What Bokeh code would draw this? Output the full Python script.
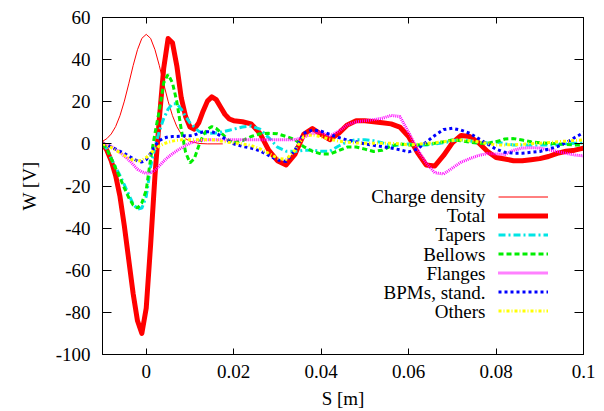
from bokeh.plotting import figure
from bokeh.models import FixedTicker, LinearAxis, Legend, LegendItem, Label
from bokeh.embed import file_html
from bokeh.resources import INLINE

# ---------------- data ----------------
S = [-0.010, -0.009, -0.008, -0.007, -0.006, -0.005, -0.004, -0.003, -0.002, -0.001,
     0.000, 0.001, 0.002, 0.003, 0.004, 0.005, 0.006, 0.007, 0.008, 0.009, 0.010, 0.011, 0.012,
     0.013, 0.014, 0.015, 0.016, 0.017, 0.018, 0.019, 0.020,
     0.022, 0.024, 0.026, 0.028, 0.030, 0.032, 0.034, 0.036, 0.038,
     0.040, 0.042, 0.044, 0.046, 0.048, 0.050, 0.052, 0.054, 0.056, 0.058, 0.060, 0.062, 0.064,
     0.066, 0.068, 0.070, 0.072, 0.074, 0.076, 0.078, 0.080, 0.082, 0.084, 0.086, 0.088, 0.090,
     0.092, 0.094, 0.096, 0.098, 0.100]

total = [0, -3, -8, -15, -25, -39, -55, -71, -84, -90,
         -78, -48, -15, 12, 36, 50, 48, 37, 22, 13, 8, 7, 10,
         15.5, 20.3, 22.3, 21, 17.5, 14, 11.8, 11,
         10.5, 9.5, 5, -3, -8, -10, -5, 4.5, 7.3,
         4.5, 2, 5, 9, 11, 11, 10.5, 10, 9.5, 8, 3.5, -4, -10,
         -10.5, -5.5, 0.5, 4, 3.5, 0.5, -3.5, -6.5, -7.2, -8, -8, -7.5, -7,
         -6, -4.5, -3.5, -3, -2]

tapers = [0, -2.5, -7, -11, -15, -19.5, -24, -28.5, -31, -30.5,
          -25, -11, -1.5, 6, 12, 16.5, 19, 19, 16.5, 13, 10, 8, 6,
          5.3, 5, 5, 5.2, 5.5, 6, 6.5, 7,
          8, 8.5, 7, 3, -1.5, -3.5, -3.6, -3, -3,
          -3.5, -3.5, -1, 1, 2, 2, 1.5, 0.5, -1, -0.5, 0, -0.5, -0.5,
          0, 0.5, 1.5, 2, 1.5, 0.5, 0.5, 1, 0, -0.5, -0.5, -0.5, -0.5,
          -0.5, -0.5, 0, 0.3, 0.5]

bellows = [0, -2.5, -7, -11.5, -16, -21, -25.5, -29, -30.5, -28,
           -22, -7, 5, 16, 29, 33, 29, 20, 7, -4, -9, -7, -1,
           4, 7, 8.2, 7.3, 5.5, 3.5, 1.5, 0.5,
           1.5, 3.5, 4.8, 5, 4.8, 3.5, 2, -1.3, -3.5,
           -4.8, -4.8, -3.2, -1.5, -1.5, -2.5, -3.6, -3, -1, 0, -0.5, -0.5, -0.3,
           0.3, 1, 1.9, 1.5, 0.8, 0.3, 0.3, 1, 2.3, 2.5, 1.8, 1, 0.5,
           0.3, 0, -0.3, -0.5, -0.5]

flanges = [0, -0.3, -1.2, -2.5, -4, -5.8, -7.6, -9.8, -12, -13.3,
           -14, -13.7, -12.5, -10.5, -8.2, -6.3, -4.7, -3.3, -2, -0.8, 0.3, 1, 1.5,
           1.8, 2, 2, 2, 2, 2, 2, 2,
           2, 2, 2, 2, 2, 2, 2, 3, 5,
           5.5, 3.8, 6, 9, 10.5, 11, 11.5, 12.2, 13.5, 13, 5.5, -2.5, -9,
           -13.7, -14.3, -11.5, -8.7, -7, -5.5, -4.6, -4.8, -5, -3, -2, -1.8, -2,
           -2.8, -3.6, -4.5, -5.3, -5.7]

bpms = [0, -0.5, -1.5, -2.5, -3.5, -4.5, -5.8, -7, -8.2, -8.6,
        -7.5, -4.5, -1, 1.5, 2.8, 3.3, 3.5, 3.5, 3.7, 3.8, 3.8, 4.2, 5,
        5.7, 5.8, 5.8, 5, 3.8, 2.5, 1, 0,
        -1.2, -2, -3.3, -5.5, -7.6, -8.4, -3, 5, 6.6,
        6, 4.5, 3, 1.8, 1, 0, -0.7, -1.3, -2, -2.8, -3.8, -2.5, 0.8,
        4, 6.8, 7.4, 6.5, 5, 2.5, 0, -2.5, -4, -4.4, -4.4, -4, -3.6,
        -2.5, -1.3, 0.5, 3, 5.3]

others = [0, -0.7, -1.8, -3, -4.2, -5.5, -6.7, -7.7, -8.2, -7.8,
          -6.5, -4.5, -2.5, -1, 0, 0.8, 1.3, 1.7, 1.9, 2, 2, 2, 2,
          2, 2, 2, 1.8, 1.4, 1, 0.7, 0.5,
          0, -0.8, -2.3, -4.5, -6.8, -7.4, -3, 3.5, 4.3,
          3.3, 2.2, 1.3, 0.8, 0.4, 0.3, 0.3, 0.3, 0.3, 0, -0.5, -0.2, 0.2,
          0.5, 1, 1.6, 1.9, 1.5, 1, 0.2, -0.5, -0.5, -0.4, -0.2, 0.1, 0.3,
          0.6, 1, 1.3, 1.6, 1.9]

q_S = [-0.010, -0.009, -0.008, -0.007, -0.006, -0.005, -0.004, -0.003, -0.002, -0.001,
       0.000, 0.001, 0.002, 0.003, 0.004, 0.005, 0.006, 0.007, 0.008, 0.009, 0.010,
       0.012, 0.014, 0.0175]
charge = [1.2, 2.5, 4.7, 8.2, 13.4, 20.3, 28.5, 37.1, 44.7, 50.1,
          52, 50.1, 44.7, 37.1, 28.5, 20.3, 13.4, 8.2, 4.7, 2.5, 1.2,
          0.2, 0, 0]

series_names = ["Charge density", "Total", "Tapers", "Bellows", "Flanges", "BPMs, stand.", "Others"]

x_ticks = [0, 0.02, 0.04, 0.06, 0.08, 0.1]
x_tick_labels = ["0", "0.02", "0.04", "0.06", "0.08", "0.1"]
y_ticks = [-100, -80, -60, -40, -20, 0, 20, 40, 60]
y_tick_labels = ["-100", "-80", "-60", "-40", "-20", "0", "20", "40", "60"]

# ---------------- figure ----------------
FONT = "Liberation Serif"
FS = "19px"

p = figure(width=600, height=411, x_range=(-0.01, 0.1), y_range=(-100, 60),
           output_backend="svg", toolbar_location=None,
           min_border_left=102, min_border_right=17, min_border_top=17, min_border_bottom=56)
p.background_fill_color = "white"
p.border_fill_color = "white"
p.outline_line_color = "black"
p.outline_line_width = 1
p.grid.visible = False

xt = FixedTicker(ticks=x_ticks)
yt = FixedTicker(ticks=y_ticks)

xa = p.xaxis[0]
ya = p.yaxis[0]
xa.ticker = xt
xa.major_label_overrides = dict(zip(x_ticks, x_tick_labels))
xa.axis_label = "S [m]"
ya.ticker = yt
ya.major_label_overrides = dict(zip(y_ticks, y_tick_labels))
ya.axis_label = "W [V]"

for ax, tl in [(xa, 6), (ya, 9)]:
    ax.major_tick_in = tl
    ax.major_tick_out = 0
    ax.minor_tick_in = 0
    ax.minor_tick_out = 0
    ax.major_tick_line_color = "black"
    ax.axis_line_color = "black"
    ax.major_label_text_font = FONT
    ax.major_label_text_font_size = FS
    ax.major_label_text_color = "black"
    ax.axis_label_text_font = FONT
    ax.axis_label_text_font_size = FS
    ax.axis_label_text_font_style = "normal"
    ax.axis_label_text_color = "black"

xa.major_label_standoff = 10
xa.axis_label_standoff = 7
ya.major_label_standoff = 12
ya.axis_label_standoff = 13

# mirrored ticks on top and right
top_ax = LinearAxis(ticker=xt, major_tick_in=6, major_tick_out=0, minor_tick_in=0, minor_tick_out=0,
                    major_label_text_font_size="0px", major_label_standoff=0,
                    major_label_overrides={t: "" for t in x_ticks})
right_ax = LinearAxis(ticker=yt, major_tick_in=9, major_tick_out=0, minor_tick_in=0, minor_tick_out=0,
                      major_label_text_font_size="0px", major_label_standoff=0,
                      major_label_overrides={t: "" for t in y_ticks})
p.add_layout(top_ax, "above")
p.add_layout(right_ax, "right")

# ---------------- curves ----------------
r_q = p.line(q_S, charge, line_color="#ff0000", line_width=1)
r_tot = p.line(S, total, line_color="#ff0000", line_width=5, line_join="round", line_cap="round")
r_tap = p.line(S, tapers, line_color="#00e5e5", line_width=3, line_dash="7 3 2 3")
r_bel = p.line(S, bellows, line_color="#00ee00", line_width=3, line_dash="5 3")
r_fla = p.line(S, flanges, line_color="#ff00ff", line_width=3, line_dash="1 1")
r_bpm = p.line(S, bpms, line_color="#0000ff", line_width=3, line_dash="3 3")
r_oth = p.line(S, others, line_color="#ffff00", line_width=3, line_dash="3 2 1 2")

renderers = [r_q, r_tot, r_tap, r_bel, r_fla, r_bpm, r_oth]

# legend: gnuplot style (text right-aligned, sample to the right)
legend = Legend(items=[LegendItem(label=" ", renderers=[r]) for r in renderers],
                location=(396, 34.5), orientation="vertical",
                glyph_width=50, glyph_height=19, label_height=19, label_width=1,
                label_standoff=0, spacing=0, padding=0, margin=0,
                label_text_font_size="1px",
                border_line_alpha=0, background_fill_alpha=0)
p.add_layout(legend)

ROW0 = 157.8
ROW_STEP = 19.1
for i, name in enumerate(series_names):
    p.add_layout(Label(x=383, y=ROW0 - ROW_STEP * i, x_units="screen", y_units="screen",
                       text=name, text_align="right", text_baseline="middle",
                       text_font=FONT, text_font_size=FS, text_color="black"))

open("out.html", "w").write(file_html(p, INLINE))
